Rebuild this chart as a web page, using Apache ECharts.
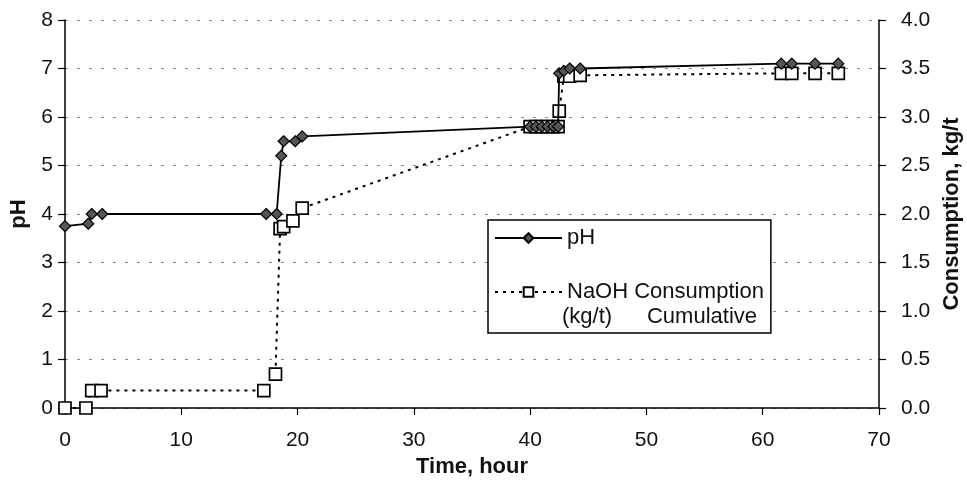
<!DOCTYPE html>
<html><head><meta charset="utf-8">
<script src="https://cdn.jsdelivr.net/npm/echarts@6/dist/echarts.min.js"></script>
<style>html,body{margin:0;padding:0;background:#fff}#c{width:967px;height:488px}</style>
</head><body><div id="c"></div>
<script>
// Time (hour) and pH readings
const phTime = [0, 2, 2.3, 3.2, 17.3, 18.2, 18.6, 18.8, 19.8, 20.4, 40, 40.5, 41, 41.5, 42, 42.4, 42.5, 42.9, 43.4, 44.3, 61.6, 62.5, 64.5, 66.5];
const phVal  = [3.75, 3.8, 4.0, 4.0, 4.0, 4.0, 5.2, 5.5, 5.5, 5.6, 5.8, 5.8, 5.8, 5.8, 5.8, 5.8, 6.9, 6.95, 7.0, 7.0, 7.1, 7.1, 7.1, 7.1];
// Time (hour) and cumulative NaOH consumption (kg/t)
const naohTime = [0, 1.8, 2.3, 3.1, 17.1, 18.1, 18.5, 18.8, 19.6, 20.4, 40, 40.5, 41, 41.5, 42, 42.4, 42.5, 42.9, 43.4, 44.3, 61.6, 62.5, 64.5, 66.5];
const naohVal  = [0, 0, 0.18, 0.18, 0.18, 0.35, 1.85, 1.87, 1.93, 2.06, 2.9, 2.9, 2.9, 2.9, 2.9, 2.9, 3.06, 3.42, 3.42, 3.43, 3.45, 3.45, 3.45, 3.45];
const xTicks = [0, 10, 20, 30, 40, 50, 60, 70];
const phTicks = [0, 1, 2, 3, 4, 5, 6, 7, 8];
const consTicks = ['0.0', '0.5', '1.0', '1.5', '2.0', '2.5', '3.0', '3.5', '4.0'];
const seriesNames = ['pH', 'NaOH Consumption'];
const legendSecondLine = ['(kg/t)', 'Cumulative'];

const FONT = '"Liberation Sans", Arial, sans-serif';
const chart = echarts.init(document.getElementById('c'));
const axisLine = {show: true, lineStyle: {color: '#000', width: 1.5}};
const tickStyle = {show: true, length: 7, lineStyle: {color: '#000', width: 1.2}};
const titleStyle = {fontFamily: FONT, fontSize: 22, fontWeight: 'bold', color: '#111'};
const labelStyle = {fontFamily: FONT, fontSize: 21, color: '#111'};
chart.setOption({
  animation: false,
  backgroundColor: '#fff',
  textStyle: {fontFamily: FONT},
  grid: {left: 65, right: 88, top: 20, bottom: 80, containLabel: false, outerBoundsMode: 'none'},
  legend: {
    orient: 'vertical', left: 488, top: 220,
    data: seriesNames,
    itemWidth: 67, itemHeight: 12, itemGap: 32,
    padding: [7, 7, 30, 6],
    borderColor: '#000', borderWidth: 1.5, backgroundColor: '#fff',
    textStyle: {fontFamily: FONT, fontSize: 22, color: '#111'}
  },
  graphic: [{
    type: 'text', left: 562, top: 306, z: 100,
    style: {text: legendSecondLine[0], font: '22px ' + FONT, fill: '#111'}
  }, {
    type: 'text', right: 967 - 757, top: 306, z: 100,
    style: {text: legendSecondLine[1], font: '22px ' + FONT, fill: '#111'}
  }],
  xAxis: {
    type: 'value', min: xTicks[0], max: xTicks[xTicks.length - 1], interval: 10,
    name: 'Time, hour', nameLocation: 'middle', nameGap: 41,
    nameTextStyle: titleStyle,
    axisLine: axisLine, axisTick: tickStyle,
    axisLabel: Object.assign({margin: 22}, labelStyle),
    splitLine: {show: false}
  },
  yAxis: [{
    type: 'value', min: phTicks[0], max: phTicks[phTicks.length - 1], interval: 1, position: 'left',
    name: 'pH', nameLocation: 'middle', nameGap: 28, nameRotate: 90,
    nameTextStyle: titleStyle,
    axisLine: axisLine, axisTick: tickStyle,
    axisLabel: Object.assign({margin: 12}, labelStyle),
    splitLine: {show: true, lineStyle: {color: '#888', width: 1, type: [3, 9]}}
  }, {
    type: 'value', min: 0, max: 4, interval: 0.5, position: 'right',
    name: 'Consumption, kg/t', nameLocation: 'middle', nameGap: 62, nameRotate: 90,
    nameTextStyle: titleStyle,
    axisLine: axisLine, axisTick: tickStyle,
    axisLabel: Object.assign({margin: 22, formatter: (v) => consTicks[Math.round(v * 2)]}, labelStyle),
    splitLine: {show: false}
  }],
  series: [{
    name: seriesNames[1], type: 'line', yAxisIndex: 1,
    data: naohTime.map((t, i) => [t, naohVal[i]]),
    symbol: 'rect', symbolSize: 12, showAllSymbol: true,
    lineStyle: {color: '#000', width: 2, type: [3, 5]},
    itemStyle: {color: '#fff', borderColor: '#000', borderWidth: 1.7},
    z: 2
  }, {
    name: seriesNames[0], type: 'line', yAxisIndex: 0,
    data: phTime.map((t, i) => [t, phVal[i]]),
    symbol: 'diamond', symbolSize: 11, showAllSymbol: true,
    lineStyle: {color: '#000', width: 1.8},
    itemStyle: {color: '#555', borderColor: '#000', borderWidth: 1.2},
    z: 3
  }]
});
</script></body></html>
